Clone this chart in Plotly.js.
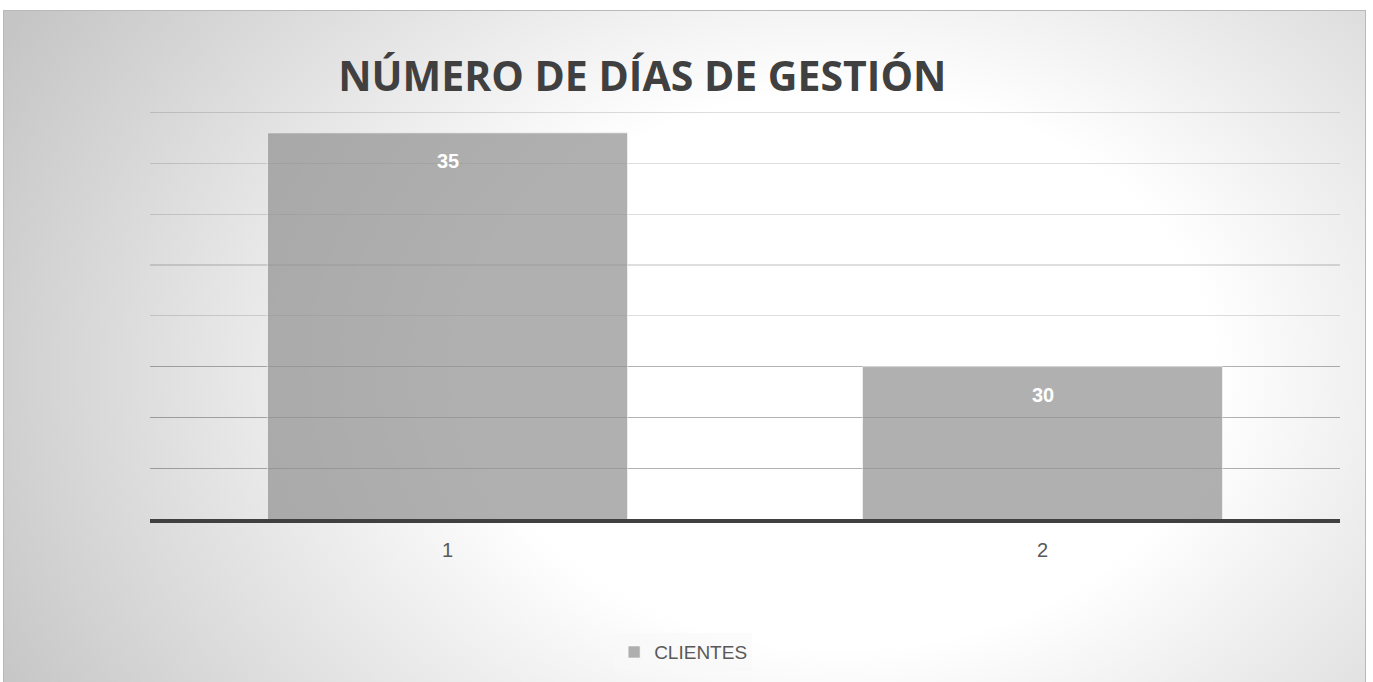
<!DOCTYPE html>
<html>
<head>
<meta charset="utf-8">
<script src="https://cdn.plot.ly/plotly-3.0.1.min.js"></script>
<style>
  html, body { margin: 0; padding: 0; background: #ffffff; width: 1373px; height: 682px; overflow: hidden; }
  #frame {
    position: absolute; left: 3px; top: 10px; width: 1361px; height: 674px;
    border: 1px solid #b9b9b9;
    background: radial-gradient(ellipse 880px 660px at 840px 360px, #ffffff 0%, #ffffff 42%, #c5c5c5 108%);
  }
  #chart { position: absolute; left: 0; top: 0; width: 1361px; height: 672px; }
</style>
</head>
<body>
<div id="frame"><div id="chart"></div></div>
<script>
// ---- data ----
const categories = ['1', '2'];
const values = [34.6, 30];
const seriesName = 'CLIENTES';
const chartTitle = 'NÚMERO DE DÍAS DE GESTIÓN';
const yMin = 27, yMax = 35;
const upperGrid = [31, 32, 33, 34, 35];
const lowerGrid = [28, 29, 30];

const barTrace = {
  type: 'bar',
  x: categories,
  y: values,
  name: seriesName,
  marker: { color: 'rgba(145,145,145,0.72)', line: { color: 'rgba(255,255,255,0.55)', width: 1 } },
  showlegend: true,
  hoverinfo: 'none',
  yaxis: 'y'
};

// invisible helper so the second (overlaying) y axis draws its gridlines
const gridTrace = {
  type: 'scatter', x: [categories[0]], y: [yMin], yaxis: 'y2', mode: 'markers',
  marker: { opacity: 0 }, showlegend: false, hoverinfo: 'none'
};

const annotations = categories.map((c, i) => ({
  x: i, y: values[i], xref: 'x', yref: 'y',
  text: Math.round(values[i]).toString(),
  showarrow: false, yanchor: 'middle', yshift: -28,
  font: { family: 'Liberation Sans, Arial, sans-serif', size: 20, color: '#ffffff', weight: 'bold' }
}));

const layout = {
  width: 1361, height: 672,
  paper_bgcolor: 'rgba(0,0,0,0)',
  plot_bgcolor: 'rgba(0,0,0,0)',
  margin: { l: 146, r: 25, t: 99, b: 164 },
  title: {
    text: '<b>' + chartTitle + '</b>',
    xref: 'container', yref: 'container',
    x: 0.469, xanchor: 'center', y: 0.903, yanchor: 'middle',
    font: { family: 'Open Sans, Liberation Sans, sans-serif', size: 41, color: '#404040' }
  },
  bargap: 0.395,
  xaxis: {
    type: 'category',
    range: [-0.5, 1.5],
    showline: true, linecolor: '#404040', linewidth: 3.5,
    showgrid: false, ticks: '',
    ticklabelstandoff: 10,
    tickfont: { family: 'Liberation Sans, Arial, sans-serif', size: 20, color: '#595959' },
    fixedrange: true
  },
  yaxis: {
    range: [yMin, yMax + 0.05],
    tickmode: 'array', tickvals: upperGrid,
    showgrid: true, gridcolor: 'rgba(0,0,0,0.13)', gridwidth: 1.3,
    showticklabels: false, ticks: '', zeroline: false, showline: false,
    fixedrange: true
  },
  yaxis2: {
    overlaying: 'y',
    range: [yMin, yMax + 0.05],
    tickmode: 'array', tickvals: lowerGrid,
    showgrid: true, gridcolor: 'rgba(0,0,0,0.3)', gridwidth: 1.3,
    showticklabels: false, ticks: '', zeroline: false, showline: false,
    fixedrange: true
  },
  legend: {
    orientation: 'h',
    xref: 'container', yref: 'container',
    x: 0.499, xanchor: 'center', y: 0.046, yanchor: 'middle',
    bgcolor: 'rgba(248,248,248,0.6)',
    font: { family: 'Liberation Sans, Arial, sans-serif', size: 19, color: '#595959' }
  },
  annotations: annotations,
  showlegend: true
};

Plotly.newPlot('chart', [gridTrace, barTrace], layout, { displayModeBar: false, staticPlot: true });
</script>
</body>
</html>
